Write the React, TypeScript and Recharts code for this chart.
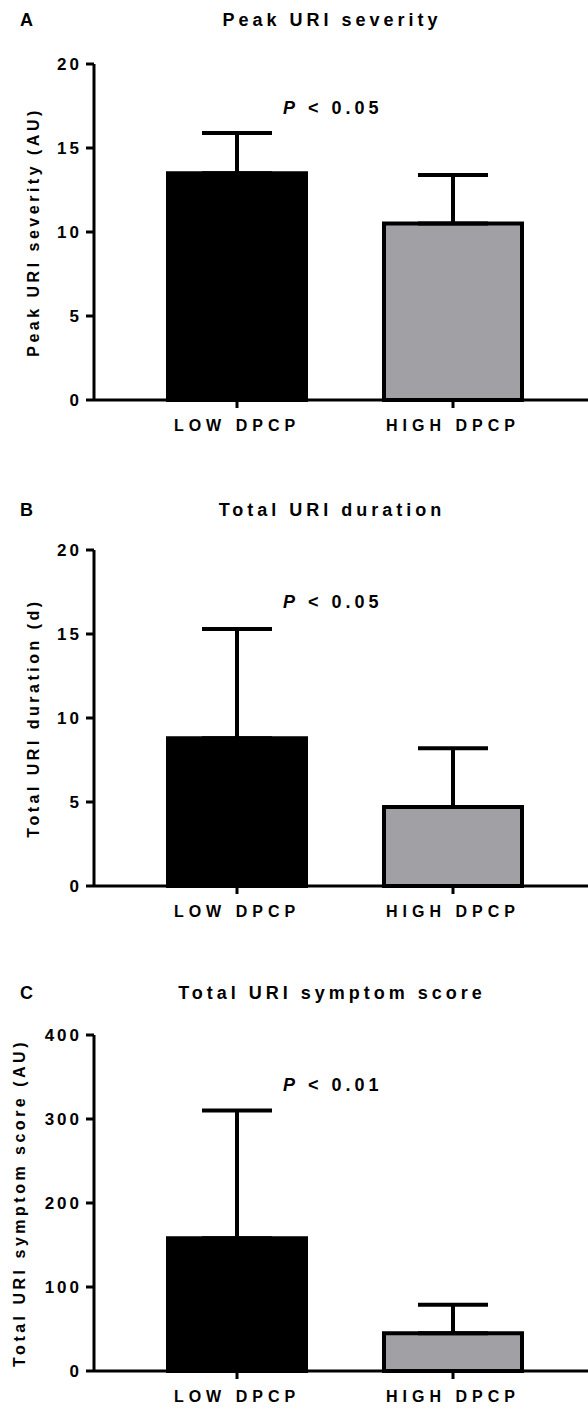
import React from 'react'
import { BarChart, Bar, Cell, XAxis, YAxis, ErrorBar } from 'recharts'

const groups = ['LOW DPCP', 'HIGH DPCP']
const barColors = ['#000000', '#a1a0a5']

// means and upward SD
const peakSeverity = [13.5, 10.5]
const peakSeveritySd = [2.4, 2.9]
const duration = [8.8, 4.7]
const durationSd = [6.5, 3.5]
const symptomScore = [158, 45]
const symptomScoreSd = [152, 34]

const severityTicks = [0, 5, 10, 15, 20]
const durationTicks = [0, 5, 10, 15, 20]
const scoreTicks = [0, 100, 200, 300, 400]

const FONT = '"Liberation Sans", Arial, Helvetica, sans-serif'

const toRows = (means: number[], sds: number[]) =>
  groups.map((name, i) => ({ name, value: means[i], err: [0, sds[i]] }))

interface PanelProps {
  top: number
  letter: string
  title: string
  yLabel: string
  yLabelX: number
  pText: string
  pY: number
  titleY: number
  rows: { name: string; value: number; err: number[] }[]
  ticks: number[]
}

function Panel({ top, letter, title, yLabel, yLabelX, pText, pY, titleY, rows, ticks }: PanelProps) {
  const max = ticks[ticks.length - 1]
  return (
    <div style={{ position: 'absolute', left: 0, top, width: 588, height: 440 }}>
      <BarChart width={588} height={440} data={rows} margin={{ top: 64, right: 0, bottom: 0, left: 0 }}>
        <XAxis
          dataKey="name"
          height={40}
          padding={{ left: 35, right: 27 }}
          axisLine={{ stroke: '#000', strokeWidth: 3 }}
          tickLine={{ stroke: '#000', strokeWidth: 3 }}
          tickSize={8}
          tickMargin={12}
          tick={{ fill: '#000', fontSize: 16, fontWeight: 700, fontFamily: FONT, letterSpacing: 5 }}
        />
        <YAxis
          width={94}
          domain={[0, max]}
          ticks={ticks}
          interval={0}
          axisLine={{ stroke: '#000', strokeWidth: 3 }}
          tickLine={{ stroke: '#000', strokeWidth: 3 }}
          tickSize={8}
          tickMargin={4}
          tick={{ fill: '#000', fontSize: 17, fontWeight: 700, fontFamily: FONT, letterSpacing: 3 }}
          label={{
            content: (props: any) => {
              const vb = props.viewBox || { y: 64, height: 336 }
              const cy = vb.y + vb.height / 2
              return (
                <text
                  x={yLabelX}
                  y={cy}
                  transform={`rotate(-90 ${yLabelX} ${cy})`}
                  textAnchor="middle"
                  dominantBaseline="central"
                  fontFamily={FONT}
                  fontWeight={700}
                  fontSize={16}
                  letterSpacing={3.5}
                  fill="#000"
                >
                  {yLabel}
                </text>
              )
            },
          }}
        />
        <Bar dataKey="value" barSize={138} stroke="#000" strokeWidth={4} isAnimationActive={false}>
          {rows.map((r, i) => (
            <Cell key={r.name} fill={barColors[i]} />
          ))}
          <ErrorBar dataKey="err" direction="y" width={35} stroke="#000" strokeWidth={4} isAnimationActive={false} />
        </Bar>
      </BarChart>
      <svg width={588} height={440} style={{ position: 'absolute', left: 0, top: 0, pointerEvents: 'none' }}>
        <g fontFamily={FONT} fontWeight={700} fill="#000">
          <text x={20} y={titleY} fontSize={18} dominantBaseline="central">
            {letter}
          </text>
          <text x={332} y={titleY} fontSize={18} letterSpacing={4} textAnchor="middle" dominantBaseline="central">
            {title}
          </text>
          <text x={283} y={pY} fontSize={18} letterSpacing={4} dominantBaseline="central">
            <tspan fontStyle="italic">P</tspan> {pText}
          </text>
        </g>
      </svg>
    </div>
  )
}

export default function App() {
  return (
    <div style={{ position: 'absolute', left: 0, top: 0, width: 588, height: 1414, background: '#fff' }}>
      <Panel
        top={0}
        letter="A"
        title="Peak URI severity"
        yLabel="Peak URI severity (AU)"
        yLabelX={33}
        pText="< 0.05"
        pY={108}
        titleY={20}
        rows={toRows(peakSeverity, peakSeveritySd)}
        ticks={severityTicks}
      />
      <Panel
        top={486}
        letter="B"
        title="Total URI duration"
        yLabel="Total URI duration (d)"
        yLabelX={33}
        pText="< 0.05"
        pY={116}
        titleY={24}
        rows={toRows(duration, durationSd)}
        ticks={durationTicks}
      />
      <Panel
        top={971}
        letter="C"
        title="Total URI symptom score"
        yLabel="Total URI symptom score (AU)"
        yLabelX={19}
        pText="< 0.01"
        pY={114}
        titleY={22}
        rows={toRows(symptomScore, symptomScoreSd)}
        ticks={scoreTicks}
      />
    </div>
  )
}
